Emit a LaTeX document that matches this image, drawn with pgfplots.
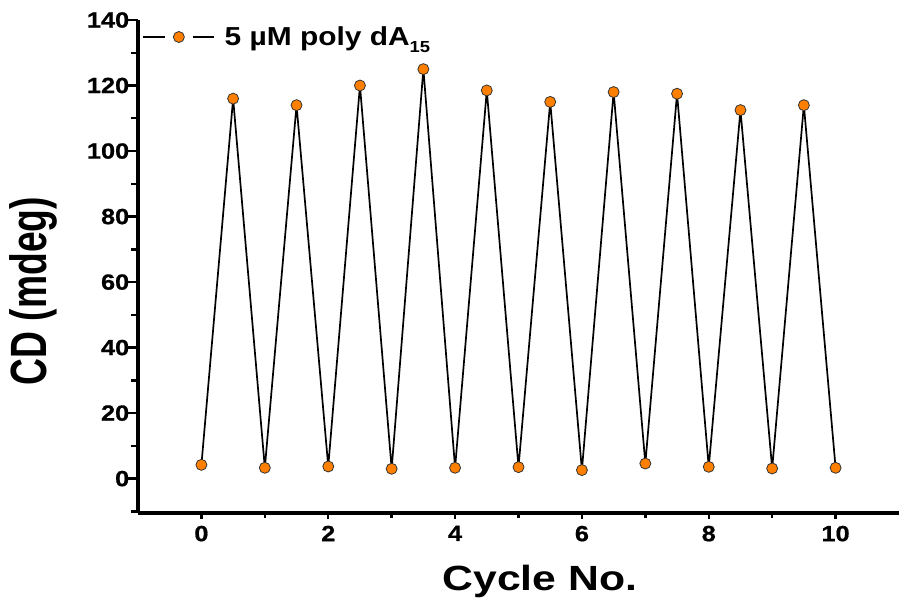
\documentclass[border=0pt]{standalone}
\usepackage{fontspec}
\setmainfont{Liberation Sans}
\newfontfamily\tickfont[FakeStretch=1.15,FakeBold=0.8]{Liberation Sans}
\newfontfamily\legfont[FakeStretch=1.15]{Liberation Sans}
\newfontfamily\xlabfont[FakeStretch=1.22]{Liberation Sans}
\newfontfamily\ylabfont[FakeStretch=0.73]{Liberation Sans}
\usepackage{pgfplots}
\pgfplotsset{compat=1.18}
\usetikzlibrary{calc}
\definecolor{mk}{HTML}{FF8000}
\begin{document}
\begin{tikzpicture}
\begin{axis}[
  scale only axis,
  width=761pt, height=493pt,
  xmin=-1, xmax=11, ymin=-10.5, ymax=140,
  axis x line*=bottom, axis y line*=left,
  x axis line style={line width=3.2pt,-},
  y axis line style={line width=3.2pt,-},
  xtick={0,2,...,10}, ytick={0,20,...,140},
  minor xtick={1,3,...,9}, minor ytick={-10,10,30,...,130},
  tick align=outside,
  xtick style={/pgfplots/major tick length=6pt, /pgfplots/minor tick length=4.5pt},
  ytick style={/pgfplots/major tick length=10pt, /pgfplots/minor tick length=7pt},
  tick style={black,line width=2.4pt},
  minor tick style={black,line width=2.4pt},
  tick label style={font=\fontsize{22}{22}\selectfont\tickfont\bfseries},
  /pgf/number format/assume math mode=true,
  xticklabel style={yshift=-5pt},
  yticklabel style={xshift=-1pt},
  xlabel={\fontsize{35}{35}\selectfont\xlabfont\bfseries Cycle No.},
  ylabel={\fontsize{51}{51}\selectfont\ylabfont\bfseries CD (mdeg)},
  xlabel style={at={(rel axis cs:0.528,-0.138)}, anchor=center, inner sep=0pt},
  ylabel style={at={(rel axis cs:-0.137,0.45)}, anchor=center, inner sep=0pt},
  legend style={draw=none, fill=none, at={(rel axis cs:0.005,0.9655)}, anchor=west,
    font=\fontsize{26}{26}\selectfont\legfont\bfseries, inner sep=0pt},
  legend cell align=left,
  legend image code/.code={
    \draw[#1,mark=none] (0pt,0pt) -- (22pt,0pt);
    \draw[#1,mark=none] (50pt,0pt) -- (71pt,0pt);
    \draw[#1,only marks] plot coordinates {(36pt,0pt)};
  },
  clip=false,
]
\addplot[black, line width=1.7pt, mark=*, mark size=5.5pt,
  mark options={fill=mk, draw=black!80, line width=0.8pt}]
coordinates {
(0,4.2) (0.5,116) (1,3.3) (1.5,114) (2,3.7) (2.5,120) (3,3.0) (3.5,125)
(4,3.3) (4.5,118.5) (5,3.5) (5.5,115) (6,2.6) (6.5,118) (7,4.6) (7.5,117.5)
(8,3.6) (8.5,112.5) (9,3.1) (9.5,114) (10,3.3)
};
\addlegendentry{\hspace{8pt}5 µM poly dA\raisebox{-0.5ex}{\fontsize{16}{16}\selectfont 15}}
\end{axis}
\pgfresetboundingbox
\path ($(current axis.south west)+(-138pt,-90pt)$) rectangle ($(current axis.north east)+(0pt,20pt)$);
\end{tikzpicture}
\end{document}
